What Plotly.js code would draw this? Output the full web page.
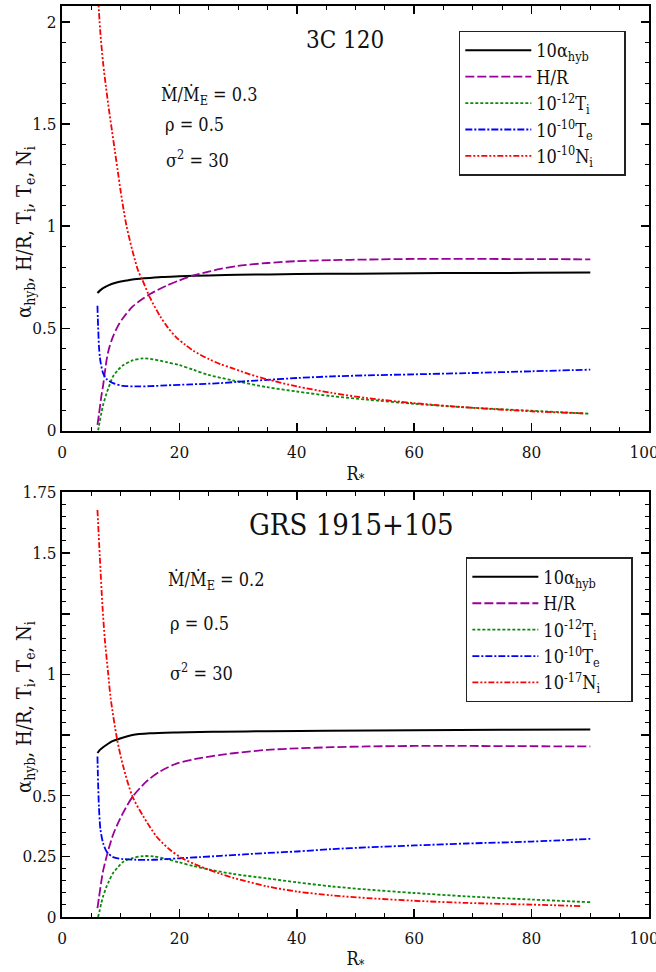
<!DOCTYPE html>
<html>
<head>
<meta charset="utf-8">
<script src="https://cdn.plot.ly/plotly-3.0.1.min.js"></script>
<style>html,body{margin:0;padding:0;background:#fff;}</style>
</head>
<body>
<div id="chart" style="width:656px;height:972px;"></div>
<script>
// ---------- Top panel: 3C 120 ----------
const top_alpha_r = [6.04, 6.5, 7, 8, 9, 10, 11, 12, 14, 17, 20, 25, 30, 40, 50, 60, 70, 80, 90];
const top_alpha_v = [0.673, 0.686, 0.697, 0.712, 0.722, 0.729, 0.734, 0.739, 0.745, 0.752, 0.755, 0.759, 0.762, 0.766, 0.768, 0.770, 0.771, 0.772, 0.773];

const top_hr_r = [6.04, 6.3, 6.7, 7, 7.6, 8, 8.7, 9.5, 10.4, 12, 13.5, 15, 17.8, 20, 22, 25, 27, 30, 35, 40, 46, 52, 60, 70, 80, 90];
const top_hr_v = [0.028, 0.08, 0.167, 0.22, 0.346, 0.40, 0.461, 0.51, 0.551, 0.606, 0.64, 0.668, 0.709, 0.735, 0.756, 0.778, 0.791, 0.806, 0.820, 0.829, 0.834, 0.837, 0.840, 0.840, 0.839, 0.838];

const top_ti_r = [6.15, 6.4, 6.7, 7, 7.6, 8, 8.7, 9.5, 10.4, 12, 13.8, 15, 17.8, 20, 22.4, 25, 29, 35, 40, 46, 52, 60, 69, 80, 90];
const top_ti_v = [0.0, 0.04, 0.085, 0.125, 0.183, 0.215, 0.265, 0.295, 0.319, 0.343, 0.353, 0.351, 0.335, 0.32, 0.297, 0.272, 0.246, 0.212, 0.191, 0.168, 0.151, 0.131, 0.113, 0.097, 0.082];

const top_te_r = [6.04, 6.1, 6.15, 6.3, 6.45, 6.6, 7, 7.6, 8.7, 10.4, 12.7, 15, 17.8, 22, 27, 31, 35, 40, 46, 52, 60, 69, 80, 90];
const top_te_v = [0.611, 0.55, 0.51, 0.41, 0.36, 0.33, 0.281, 0.252, 0.232, 0.219, 0.216, 0.217, 0.221, 0.226, 0.232, 0.241, 0.248, 0.257, 0.265, 0.27, 0.275, 0.281, 0.29, 0.298];

const top_ni_r = [6.0, 6.5, 7, 7.5, 8, 8.5, 9, 9.5, 10, 10.5, 11, 12, 13, 13.6, 15, 16.7, 18, 19.5, 21, 22.4, 25, 27, 29, 32, 35, 40, 46, 52, 60, 69, 80, 89];
const top_ni_v = [2.2, 1.96, 1.80, 1.68, 1.57, 1.47, 1.37, 1.27, 1.17, 1.08, 1.00, 0.88, 0.78, 0.743, 0.65, 0.56, 0.505, 0.455, 0.42, 0.39, 0.35, 0.325, 0.305, 0.275, 0.25, 0.216, 0.184, 0.159, 0.134, 0.113, 0.094, 0.084];

// ---------- Bottom panel: GRS 1915+105 ----------
const bot_alpha_r = [6.04, 6.5, 7, 7.6, 8.5, 9.9, 12, 15, 19.5, 23.5, 27, 35, 45, 60, 75, 90];
const bot_alpha_v = [0.676, 0.69, 0.70, 0.71, 0.724, 0.736, 0.75, 0.757, 0.761, 0.763, 0.764, 0.766, 0.768, 0.770, 0.772, 0.773];

const bot_hr_r = [6.04, 6.3, 6.7, 7, 7.6, 8, 8.7, 9.5, 10.4, 12, 14.4, 16.7, 19.5, 23.5, 27, 29.2, 35, 40, 46, 52, 60, 70, 80, 90];
const bot_hr_v = [0.037, 0.08, 0.147, 0.19, 0.25, 0.285, 0.339, 0.385, 0.429, 0.495, 0.559, 0.6, 0.632, 0.655, 0.668, 0.675, 0.689, 0.695, 0.700, 0.703, 0.705, 0.705, 0.704, 0.703];

const bot_ti_r = [6.15, 6.4, 6.7, 7, 7.6, 8, 8.7, 9.5, 10.4, 12, 13.8, 15.6, 17.8, 20, 22.4, 25, 29, 35, 40, 46, 52, 60, 69, 80, 90];
const bot_ti_v = [0.0, 0.025, 0.058, 0.085, 0.126, 0.148, 0.181, 0.205, 0.227, 0.243, 0.251, 0.250, 0.239, 0.225, 0.21, 0.196, 0.178, 0.159, 0.143, 0.126, 0.113, 0.099, 0.085, 0.072, 0.061];

const bot_te_r = [6.04, 6.1, 6.15, 6.3, 6.55, 7, 7.6, 8.7, 10.4, 12.7, 15.6, 17.8, 20, 23.5, 27, 31, 35, 40, 46, 52, 60, 69, 80, 90];
const bot_te_v = [0.662, 0.6, 0.552, 0.45, 0.36, 0.305, 0.27, 0.247, 0.239, 0.236, 0.236, 0.239, 0.242, 0.247, 0.252, 0.258, 0.264, 0.27, 0.28, 0.287, 0.295, 0.303, 0.311, 0.322];

const bot_ni_r = [6.04, 6.44, 6.9, 7.3, 7.86, 8.3, 9.4, 10.43, 12, 13.85, 16.1, 18.4, 20.4, 23.5, 25, 27, 29.2, 35, 40, 46, 52, 60, 69, 80, 88.5];
const bot_ni_v = [1.678, 1.486, 1.28, 1.143, 1.005, 0.90, 0.731, 0.621, 0.497, 0.415, 0.332, 0.277, 0.243, 0.209, 0.195, 0.178, 0.161, 0.126, 0.105, 0.089, 0.078, 0.067, 0.058, 0.051, 0.045];

// ---------- Labels ----------
const seriesNamesTop = ['10α<sub>hyb</sub>', 'H/R', '10<sup>-12</sup>T<sub>i</sub>', '10<sup>-10</sup>T<sub>e</sub>', '10<sup>-10</sup>N<sub>i</sub>'];
const seriesNamesBot = ['10α<sub>hyb</sub>', 'H/R', '10<sup>-12</sup>T<sub>i</sub>', '10<sup>-10</sup>T<sub>e</sub>', '10<sup>-17</sup>N<sub>i</sub>'];
const xTickVals = [0, 20, 40, 60, 80, 100];
const xTickText = ['0', '20', '40', '60', '80', '100\u00a0\u00a0'];
const yTickValsTop = [0, 0.5, 1, 1.5, 2];
const yTickTextTop = ['0', '0.5', '1', '1.5', '2'];
const yTickValsBot = [0, 0.25, 0.5, 0.75, 1, 1.25, 1.5, 1.75];
const yTickTextBot = ['0', '0.25', '0.5', '', '1', '', '1.5', '1.75'];

const FONT = 'DejaVu Serif Condensed, DejaVu Serif, serif';
const PAD = '\u00a0\u00a0\u00a0\u00a0\u00a0';
const styles = [
  {color: '#000000', dash: 'solid', width: 2},
  {color: '#990099', dash: '9px,3px', width: 1.8},
  {color: '#0a8a0a', dash: '3px,2px', width: 1.8},
  {color: '#0000ff', dash: '7px,2px,2px,2px', width: 1.8},
  {color: '#ff0000', dash: '6px,2px,2px,2px,2px,2px', width: 1.8}
];

function mk(rs, vs, i, names, xa, ya, leg) {
  return {
    type: 'scatter', mode: 'lines', x: rs, y: vs, name: names[i] + PAD,
    xaxis: xa, yaxis: ya, legend: leg,
    line: {color: styles[i].color, dash: styles[i].dash, width: styles[i].width, shape: 'spline', smoothing: 0.8},
    hoverinfo: 'skip'
  };
}

const topR = [top_alpha_r, top_hr_r, top_ti_r, top_te_r, top_ni_r];
const topV = [top_alpha_v, top_hr_v, top_ti_v, top_te_v, top_ni_v];
const botR = [bot_alpha_r, bot_hr_r, bot_ti_r, bot_te_r, bot_ni_r];
const botV = [bot_alpha_v, bot_hr_v, bot_ti_v, bot_te_v, bot_ni_v];

const traces = [];
for (let i = 0; i < 5; i++) traces.push(mk(topR[i], topV[i], i, seriesNamesTop, 'x', 'y', 'legend'));
for (let i = 0; i < 5; i++) traces.push(mk(botR[i], botV[i], i, seriesNamesBot, 'x2', 'y2', 'legend2'));

function xax(anchor) {
  return {
    anchor: anchor, domain: [0, 1], range: [0, 100],
    tickmode: 'array', tickvals: xTickVals, ticktext: xTickText,
    ticks: 'inside', ticklen: 8, tickwidth: 1.5, tickcolor: '#000',
    ticklabelstandoff: 5, ticklabeloverflow: 'allow',
    minor: {tickmode: 'linear', tick0: 0, dtick: 5, ticks: 'inside', ticklen: 4, tickwidth: 1, tickcolor: '#000'},
    showline: true, linewidth: 2, linecolor: '#000', mirror: 'allticks',
    showgrid: false, zeroline: false,
    tickfont: {family: FONT, size: 17, color: '#111'},
    title: {text: 'R<sub>*</sub>', standoff: 6, font: {family: FONT, size: 18, color: '#111'}}
  };
}
function yax(anchor, domain, range, vals, text, mdt) {
  return {
    anchor: anchor, domain: domain, range: range,
    tickmode: 'array', tickvals: vals, ticktext: text,
    ticks: 'inside', ticklen: 8, tickwidth: 1.5, tickcolor: '#000',
    ticklabeloverflow: 'allow',
    minor: {tickmode: 'linear', tick0: 0, dtick: mdt, ticks: 'inside', ticklen: 4, tickwidth: 1, tickcolor: '#000'},
    showline: true, linewidth: 2, linecolor: '#000', mirror: 'allticks',
    showgrid: false, zeroline: false,
    tickfont: {family: FONT, size: 17, color: '#111'}
  };
}

const yTitle = 'α<sub>hyb</sub>, H/R, T<sub>i</sub>, T<sub>e</sub>, N<sub>i</sub>';
const annFont = {family: FONT, size: 18, color: '#111'};
const legFont = {family: FONT, size: 18, color: '#111'};

const layout = {
  width: 656, height: 972,
  margin: {l: 62, r: 7, t: 6, b: 55},
  paper_bgcolor: '#fff', plot_bgcolor: '#fff',
  font: {family: FONT, size: 17, color: '#111'},
  showlegend: true,
  xaxis: xax('y'),
  yaxis: yax('x', [0.534, 1], [0, 2.078], yTickValsTop, yTickTextTop, 0.1),
  xaxis2: xax('y2'),
  yaxis2: yax('x2', [0, 0.466], [0, 1.75], yTickValsBot, yTickTextBot, 0.05),
  legend: {x: 0.676, y: 0.973, xanchor: 'left', yanchor: 'top', bgcolor: '#fff', itemwidth: 66,
           bordercolor: '#222', borderwidth: 1.5, font: legFont, tracegroupgap: 0},
  legend2: {x: 0.688, y: 0.395, xanchor: 'left', yanchor: 'top', bgcolor: '#fff', itemwidth: 66,
            bordercolor: '#222', borderwidth: 1.5, font: legFont, tracegroupgap: 0},
  annotations: [
    {xref: 'x', yref: 'y', x: 48.2, y: 1.911, text: '3C 120', showarrow: false, xanchor: 'center', yanchor: 'middle', font: {family: FONT, size: 24, color: '#111'}},
    {xref: 'x', yref: 'y', x: 16.6, y: 1.642, text: 'Ṁ/Ṁ<sub>E</sub> = 0.3', showarrow: false, xanchor: 'left', yanchor: 'middle', font: annFont},
    {xref: 'x', yref: 'y', x: 17.2, y: 1.496, text: 'ρ = 0.5', showarrow: false, xanchor: 'left', yanchor: 'middle', font: annFont},
    {xref: 'x', yref: 'y', x: 17.3, y: 1.330, text: 'σ<sup>2</sup> = 30', showarrow: false, xanchor: 'left', yanchor: 'middle', font: annFont},
    {xref: 'paper', yref: 'y', x: -0.063, y: 0.972, text: yTitle, textangle: -90, showarrow: false, xanchor: 'center', yanchor: 'middle', font: {family: FONT, size: 20, color: '#111'}},
    {xref: 'x2', yref: 'y2', x: 49.4, y: 1.616, text: 'GRS 1915+105', showarrow: false, xanchor: 'center', yanchor: 'middle', font: {family: FONT, size: 29, color: '#111'}},
    {xref: 'x2', yref: 'y2', x: 17.8, y: 1.387, text: 'Ṁ/Ṁ<sub>E</sub> = 0.2', showarrow: false, xanchor: 'left', yanchor: 'middle', font: annFont},
    {xref: 'x2', yref: 'y2', x: 18.1, y: 1.208, text: 'ρ = 0.5', showarrow: false, xanchor: 'left', yanchor: 'middle', font: annFont},
    {xref: 'x2', yref: 'y2', x: 18.1, y: 1.012, text: 'σ<sup>2</sup> = 30', showarrow: false, xanchor: 'left', yanchor: 'middle', font: annFont},
    {xref: 'paper', yref: 'y2', x: -0.063, y: 0.866, text: yTitle, textangle: -90, showarrow: false, xanchor: 'center', yanchor: 'middle', font: {family: FONT, size: 20, color: '#111'}}
  ]
};

Plotly.newPlot('chart', traces, layout, {displayModeBar: false, staticPlot: true});
</script>
</body>
</html>
